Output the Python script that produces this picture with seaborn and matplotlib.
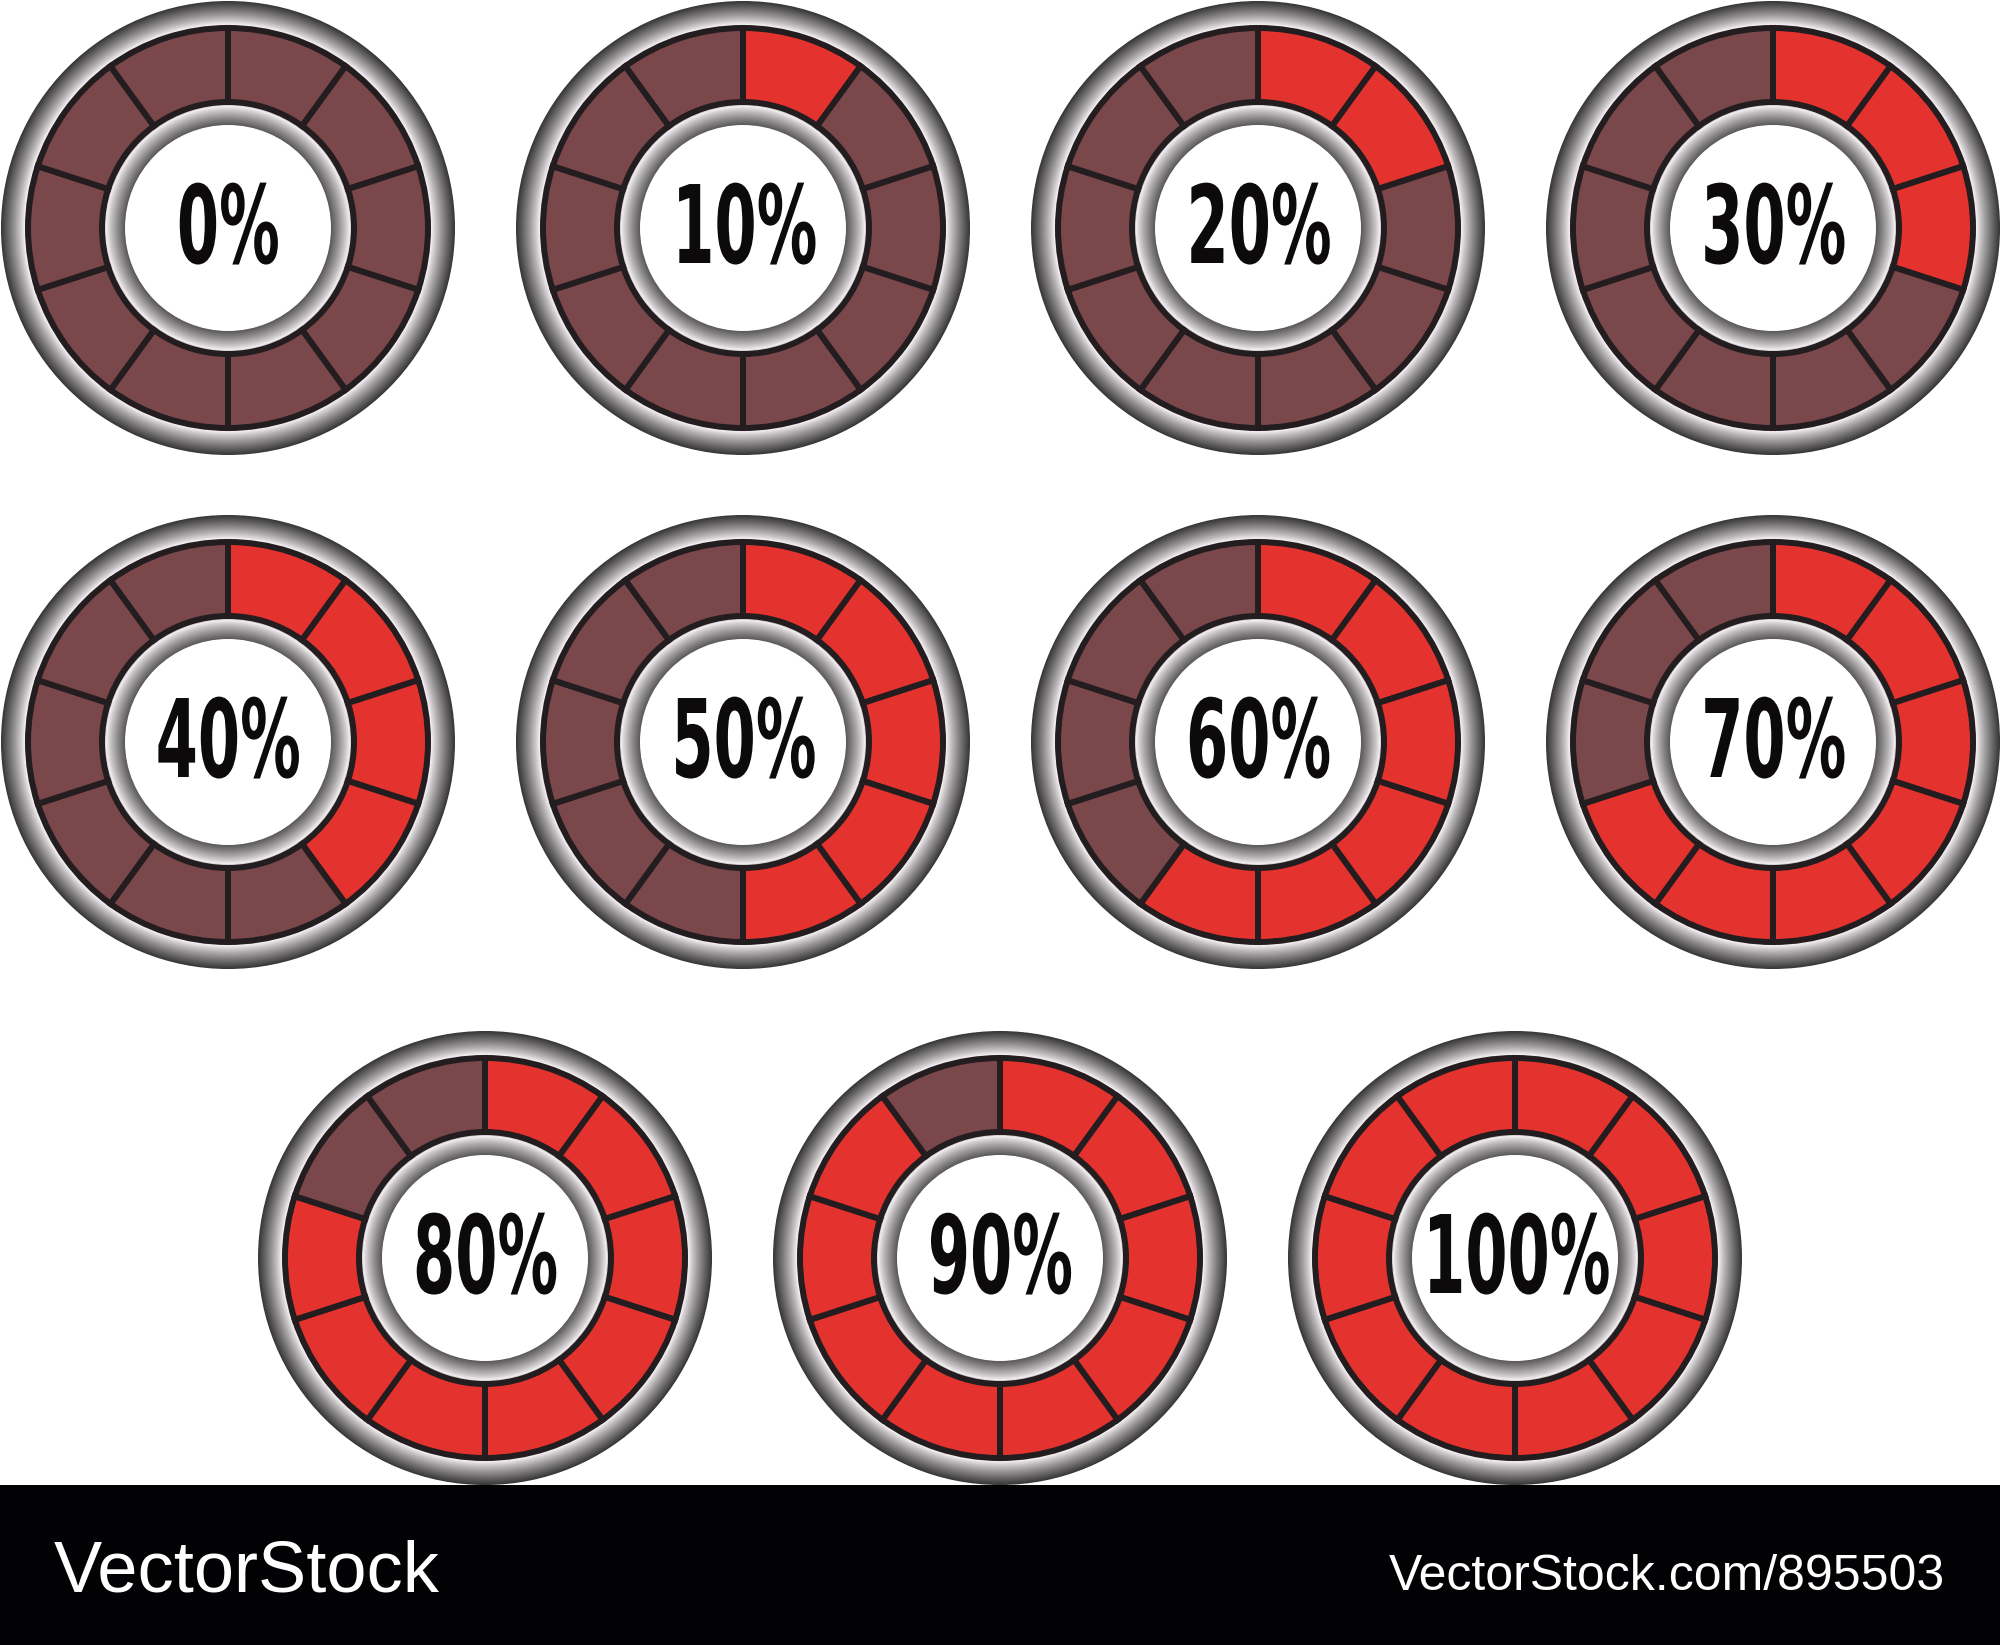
import numpy as np
import matplotlib
matplotlib.use("Agg")
import matplotlib.pyplot as plt
import seaborn as sns
from matplotlib.patches import Circle, Rectangle
from matplotlib.patheffects import AbstractPathEffect
from matplotlib.transforms import Affine2D

# ---------------- data ----------------
percent_values = [0, 10, 20, 30, 40, 50, 60, 70, 80, 90, 100]
percent_labels = ["0%", "10%", "20%", "30%", "40%", "50%",
                  "60%", "70%", "80%", "90%", "100%"]
segment_shares = [1, 1, 1, 1, 1, 1, 1, 1, 1, 1]   # ten equal segments per gauge
brand_left = "VectorStock"
brand_right = "VectorStock.com/895503"

# ---------------- style ----------------
sns.set_theme(style="white")
plt.rcParams['font.family'] = ['DejaVu Sans']

W, H = 2000, 1645
BROWN = "#7a474b"
RED = "#e4332f"
EDGE = "#231d1f"
TEXT = "#0c0a0b"

R_OUT = 227      # outer metallic ring
R_SEG = 200      # outer edge of the segment ring
R_SEG_IN = 126   # inner edge of the segment ring
R_MET_IN = 122   # inner metallic ring outer radius
R_WHITE = 103    # white centre

# layout (pixel centres, y measured from the top)
rows_x = [[228, 743, 1258, 1773], [228, 743, 1258, 1773], [485, 1000, 1515]]
rows_y = [228, 742, 1258]


class HSqueeze(AbstractPathEffect):
    """Compress glyphs horizontally around their own centre."""
    def __init__(self, sx):
        super().__init__()
        self.sx = sx

    def draw_path(self, renderer, gc, tpath, affine, rgbFace=None):
        ext = tpath.get_extents(affine)
        cx = 0.5 * (ext.x0 + ext.x1)
        t = affine + Affine2D().translate(-cx, 0).scale(self.sx, 1).translate(cx, 0)
        renderer.draw_path(gc, tpath, t, rgbFace)


def outer_gray(t):
    # t = 0 at inner edge (next to segments), 1 at the outer rim
    if t < 0.15:
        g = 0.86 + 0.10 * (t / 0.15)
    else:
        g = 0.96 - 0.74 * ((t - 0.15) / 0.85) ** 0.85
    return (g, g * 0.98, g * 0.99)


def inner_gray(t):
    # t = 0 at outer edge (next to segments), 1 at the white centre
    g = 0.96 - 0.62 * t ** 0.85
    return (g, g * 0.98, g * 0.99)


fig = plt.figure(figsize=(20, 16.45), dpi=100)
ax = fig.add_axes([0, 0, 1, 1])
ax.set_facecolor("white")

centres = []
for ys, xs in zip(rows_y, rows_x):
    for x in xs:
        centres.append((x, H - ys))

px = 72.0 / 100.0  # points per pixel

for (cx, cy), pct, lab in zip(centres, percent_values, percent_labels):
    filled = int(round(pct / 10))
    cols = [RED if i < filled else BROWN for i in range(len(segment_shares))]

    # outer metallic ring (radial gradient)
    n = 40
    for k in range(n):
        r = R_OUT - (R_OUT - R_SEG + 2) * k / n
        t = (r - R_SEG) / (R_OUT - R_SEG)
        ax.add_patch(Circle((cx, cy), r, facecolor=outer_gray(min(max(t, 0), 1)),
                            edgecolor="none", zorder=1))

    # segments
    ax.pie(segment_shares, colors=cols, startangle=90, counterclock=False,
           radius=R_SEG, center=(cx, cy), frame=True,
           wedgeprops=dict(width=R_SEG - R_SEG_IN, edgecolor=EDGE,
                           linewidth=6 * px, joinstyle="miter", zorder=2))

    # inner metallic ring
    n = 30
    for k in range(n):
        r = R_MET_IN - (R_MET_IN - R_WHITE) * k / n
        t = (R_MET_IN - r) / (R_MET_IN - R_WHITE)
        ax.add_patch(Circle((cx, cy), r, facecolor=inner_gray(t),
                            edgecolor="none", zorder=3))
    ax.add_patch(Circle((cx, cy), R_WHITE, facecolor="white",
                        edgecolor="none", zorder=4))

    ax.text(cx, cy - 35, lab, ha="center", va="baseline", fontsize=78,
            fontweight="bold", color=TEXT, zorder=5,
            path_effects=[HSqueeze(0.56)])

# bottom brand bar
ax.add_patch(Rectangle((0, 0), W, H - 1485, facecolor="#020103",
                       edgecolor="none", zorder=6))
ax.text(54, H - 1592, brand_left, ha="left", va="baseline", fontsize=52,
        color="white", family=["Liberation Sans", "DejaVu Sans"], zorder=7)
ax.text(1945, H - 1590, brand_right, ha="right", va="baseline", fontsize=36,
        color="white", family=["Liberation Sans", "DejaVu Sans"], zorder=7)

ax.set_xlim(0, W)
ax.set_ylim(0, H)
ax.set_aspect("equal")
ax.set_axis_off()

fig.savefig("out.png", dpi=100, facecolor="white")
